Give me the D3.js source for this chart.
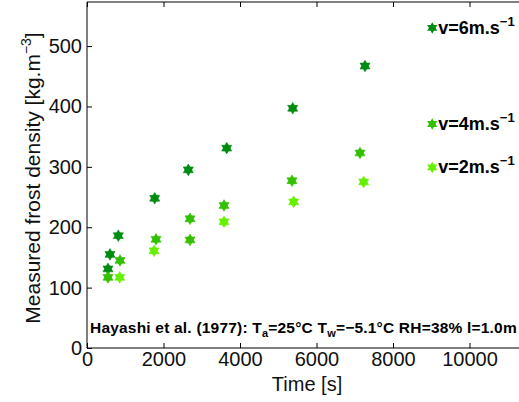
<!DOCTYPE html>
<html>
<head>
<meta charset="utf-8">
<script src="https://cdn.jsdelivr.net/npm/d3@7"></script>
<style>
  body { margin: 0; background: #fff; }
  svg { display: block; font-family: "Liberation Sans", Arial, sans-serif; }
</style>
</head>
<body>
<div id="chart"></div>
<script>
// Hayashi et al. (1977) frost density measurements
const seriesNames = ['v=6', 'v=4', 'v=2'];
const seriesColors = ['#008c10', '#33c000', '#66f000'];

const time6 = [549, 601, 818, 1770, 2648, 3652, 5378, 7268];
const dens6 = [131, 155, 186, 248, 295, 331, 397, 467];

const time4 = [549, 863, 1804, 2693, 2693, 3582, 5359, 7137];
const dens4 = [117, 145, 180, 214, 179, 236, 277, 323];

const time2 = [855, 1752, 3582, 5404, 7234];
const dens2 = [117, 161, 209, 242, 275];

const legendY = [530, 371, 299]; // legend anchor in data units (density)
const legendX = 9000;

const xTicks = [0, 2000, 4000, 6000, 8000, 10000];
const yTicks = [0, 100, 200, 300, 400, 500];

const width = 519, height = 402;
const margin = { top: 2, left: 87, bottom: 54 };

const x = d3.scaleLinear().domain([0, 12000]).range([margin.left, margin.left + 12000 * 0.03825]);
const y = d3.scaleLinear().domain([0, 573]).range([height - margin.bottom, margin.top]);

// six-pointed star (hexagram) marker
const hexagram = {
    draw(ctx, size) {
        const r = Math.sqrt(size) * 0.75;
        for (let k = 0; k < 2; k++) {
            for (let i = 0; i < 3; i++) {
                const a = (k * Math.PI / 3) + i * 2 * Math.PI / 3 - Math.PI / 2;
                const px = r * Math.cos(a), py = r * Math.sin(a);
                if (i === 0) ctx.moveTo(px, py); else ctx.lineTo(px, py);
            }
            ctx.closePath();
        }
    }
};
const sym = d3.symbol().type(hexagram).size(60);

const svg = d3.select('#chart').append('svg')
    .attr('width', width)
    .attr('height', height);

const x0 = x(0), x1 = x(12000), y0 = y(0), y1 = y(573);

// axes box
const axisColor = '#000';
svg.append('line').attr('x1', x0).attr('x2', x1).attr('y1', y0).attr('y2', y0).attr('stroke', axisColor);
svg.append('line').attr('x1', x0).attr('x2', x1).attr('y1', y1).attr('y2', y1).attr('stroke', axisColor);
svg.append('line').attr('x1', x0).attr('x2', x0).attr('y1', y0).attr('y2', y1).attr('stroke', '#555').attr('stroke-width', 1.5);

// bottom axis, ticks pointing inward
const xAxis = svg.append('g')
    .attr('transform', `translate(0,${y0})`)
    .call(d3.axisBottom(x).tickValues(xTicks).tickSize(-5).tickPadding(4).tickFormat(d3.format('d')));
xAxis.select('.domain').remove();
xAxis.selectAll('text').attr('font-size', 20).attr('fill', '#111').attr('dy', '0.72em');

// top axis ticks
const xTop = svg.append('g')
    .attr('transform', `translate(0,${y1})`)
    .call(d3.axisTop(x).tickValues(xTicks).tickSize(-5).tickFormat(''));
xTop.select('.domain').remove();

// left axis
const yAxis = svg.append('g')
    .attr('transform', `translate(${x0},0)`)
    .call(d3.axisLeft(y).tickValues(yTicks).tickSize(-5).tickPadding(5));
yAxis.select('.domain').remove();
yAxis.selectAll('text').attr('font-size', 20).attr('fill', '#111');

// axis labels
svg.append('text')
    .attr('x', 307).attr('y', 391)
    .attr('text-anchor', 'middle')
    .attr('font-size', 20)
    .attr('fill', '#111')
    .text('Time [s]');

const yl = svg.append('text')
    .attr('transform', `translate(40,${178}) rotate(-90)`)
    .attr('text-anchor', 'middle')
    .attr('font-size', 21)
    .attr('fill', '#111');
yl.append('tspan').text('Measured frost density [kg.m');
yl.append('tspan').attr('dy', -9).attr('font-size', 14).text('−3');
yl.append('tspan').attr('dy', 9).text(']');

// data points
const series = [
    { t: time6, d: dens6 },
    { t: time4, d: dens4 },
    { t: time2, d: dens2 },
];
series.forEach((s, i) => {
    svg.append('g').selectAll('path')
        .data(s.t.map((t, j) => [t, s.d[j]]))
        .enter().append('path')
        .attr('d', sym)
        .attr('transform', d => `translate(${x(d[0])},${y(d[1])})`)
        .attr('fill', seriesColors[i])
        .attr('stroke', seriesColors[i])
        .attr('stroke-width', 0.6);
});

// legend labels
seriesNames.forEach((name, i) => {
    const ly = y(legendY[i]);
    const lx = x(legendX);
    svg.append('path')
        .attr('d', sym)
        .attr('transform', `translate(${lx + 1},${ly})`)
        .attr('fill', seriesColors[i]);
    const t = svg.append('text')
        .attr('x', lx + 7).attr('y', ly + 6)
        .attr('font-size', 18)
        .attr('font-weight', 'bold')
        .attr('fill', '#000');
    t.append('tspan').text(name + 'm.s');
    t.append('tspan').attr('dy', -8).attr('font-size', 13).text('−1');
});

// annotation
const note = svg.append('text')
    .attr('x', 90).attr('y', 333)
    .attr('font-size', 15.5)
    .attr('font-weight', 'bold')
    .attr('letter-spacing', 0.2)
    .attr('fill', '#000');
note.append('tspan').text('Hayashi et al. (1977): T');
note.append('tspan').attr('dy', 4).attr('font-size', 11).text('a');
note.append('tspan').attr('dy', -4).text('=25°C T');
note.append('tspan').attr('dy', 4).attr('font-size', 11).text('w');
note.append('tspan').attr('dy', -4).text('=−5.1°C RH=38% l=1.0m');
</script>
</body>
</html>
